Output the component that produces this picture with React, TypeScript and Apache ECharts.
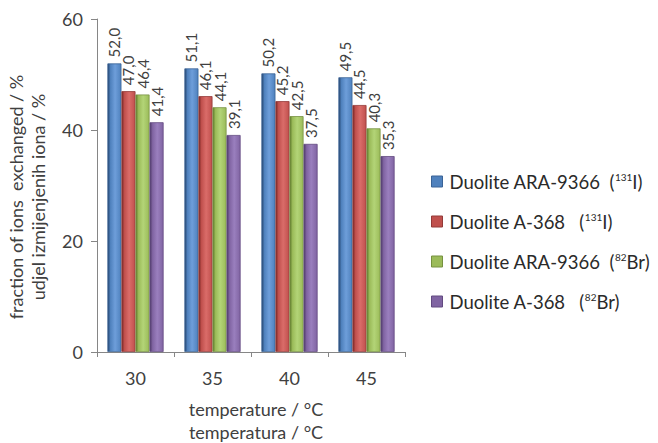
import React, { useEffect, useRef } from "react";
import * as echarts from "echarts";

const categories = ["30", "35", "40", "45"];
const seriesNames = [
  "Duolite ARA-9366 (131I)",
  "Duolite A-368 (131I)",
  "Duolite ARA-9366 (82Br)",
  "Duolite A-368 (82Br)",
];
const araI = [52.0, 51.1, 50.2, 49.5];
const a368I = [47.0, 46.1, 45.2, 44.5];
const araBr = [46.4, 44.1, 42.5, 40.3];
const a368Br = [41.4, 39.1, 37.5, 35.3];
const yTicks = [0, 20, 40, 60];
const yTitle = ["fraction of ions  exchanged / %", "udjel izmijenjenih iona / %"];
const xTitle = ["temperature / °C", "temperatura / °C"];

const legendRich: Record<string, string> = {
  "Duolite ARA-9366 (131I)": "Duolite ARA-9366  ({sup|131}I)",
  "Duolite A-368 (131I)": "Duolite A-368   ({sup|131}I)",
  "Duolite ARA-9366 (82Br)": "Duolite ARA-9366  ({sup|82}Br)",
  "Duolite A-368 (82Br)": "Duolite A-368   ({sup|82}Br)",
};

const palette = [
  { base: "#4F81BD", dark: "#24446E", light: "#6E9EDA", border: "#3A6396" },
  { base: "#C0504D", dark: "#7A2725", light: "#DA6C69", border: "#933A38" },
  { base: "#9BBB59", dark: "#5E7A2B", light: "#B3D477", border: "#769140" },
  { base: "#8064A2", dark: "#4E3A69", light: "#9A7FBE", border: "#624A80" },
];

const FONT = "Lato, 'Open Sans', 'DejaVu Sans', sans-serif";

export default function App() {
  const ref = useRef<HTMLDivElement>(null);
  useEffect(() => {
    if (!ref.current) return;
    const chart = echarts.init(ref.current, undefined, { renderer: "svg" });
    const data = [araI, a368I, araBr, a368Br];
    const series = data.map((d, i) => ({
      name: seriesNames[i],
      type: "bar",
      data: d,
      barGap: "0%",
      barCategoryGap: "27%",
      itemStyle: {
        color: new echarts.graphic.LinearGradient(0, 0, 1, 0, [
          { offset: 0, color: palette[i].dark },
          { offset: 0.2, color: palette[i].base },
          { offset: 0.55, color: palette[i].light },
          { offset: 1, color: palette[i].base },
        ]),
        borderColor: palette[i].border,
        borderWidth: 0.8,
      },
      label: {
        show: true,
        position: "top",
        rotate: 90,
        align: "left",
        verticalAlign: "middle",
        distance: 6,
        fontFamily: FONT,
        fontSize: 15,
        color: "#404040",
        formatter: (p: any) => Number(p.value).toFixed(1).replace(".", ","),
      },
    }));
    chart.setOption({
      animation: false,
      backgroundColor: "#ffffff",
      textStyle: { fontFamily: FONT },
      grid: { left: 97, top: 19, width: 308, height: 333, containLabel: false, outerBoundsMode: "none" },
      legend: {
        orient: "vertical",
        left: 426,
        top: 167,
        itemGap: 21,
        itemWidth: 11,
        itemHeight: 11,
        icon: "rect",
        data: seriesNames.map((n, i) => ({
          name: n,
          itemStyle: { color: palette[i].base, borderColor: palette[i].border, borderWidth: 1 },
        })),
        formatter: (name: string) => legendRich[name],
        textStyle: {
          fontFamily: FONT,
          fontSize: 18.5,
          color: "#2a2a2a",
          padding: [0, 0, 0, 2],
          rich: {
            sup: { fontSize: 10, verticalAlign: "top", padding: [0, 0, 9, 0], color: "#2a2a2a", fontFamily: FONT },
          },
        },
      },
      graphic: [
        {
          type: "text",
          x: 27,
          y: 197,
          rotation: Math.PI / 2,
          style: {
            text: yTitle.join("\n"),
            font: `18px ${FONT}`,
            fill: "#404040",
            align: "center",
            verticalAlign: "middle",
            lineHeight: 22,
          },
        },
        {
          type: "text",
          x: 256,
          y: 420,
          style: {
            text: xTitle.join("\n"),
            font: `18px ${FONT}`,
            fill: "#404040",
            align: "center",
            verticalAlign: "middle",
            lineHeight: 23,
          },
        },
      ],
      xAxis: {
        type: "category",
        data: categories,
        axisLine: { lineStyle: { color: "#868686", width: 1 } },
        axisTick: { show: true, alignWithLabel: false, length: 5, lineStyle: { color: "#868686" } },
        axisLabel: { fontFamily: FONT, fontSize: 18, color: "#404040", margin: 17 },
      },
      yAxis: {
        type: "value",
        min: 0,
        max: 60,
        interval: 20,
        axisLine: { show: true, lineStyle: { color: "#868686", width: 1 } },
        axisTick: { show: true, length: 6, lineStyle: { color: "#868686" } },
        splitLine: { show: false },
        axisLabel: {
          fontFamily: FONT,
          fontSize: 18,
          color: "#404040",
          margin: 14,
          formatter: (v: number) => (yTicks.includes(v) ? String(v) : ""),
        },
      },
      series,
    });
    return () => chart.dispose();
  }, []);
  return (
    <div
      ref={ref}
      style={{ position: "absolute", left: 0, top: 0, width: 658, height: 443 }}
    />
  );
}
